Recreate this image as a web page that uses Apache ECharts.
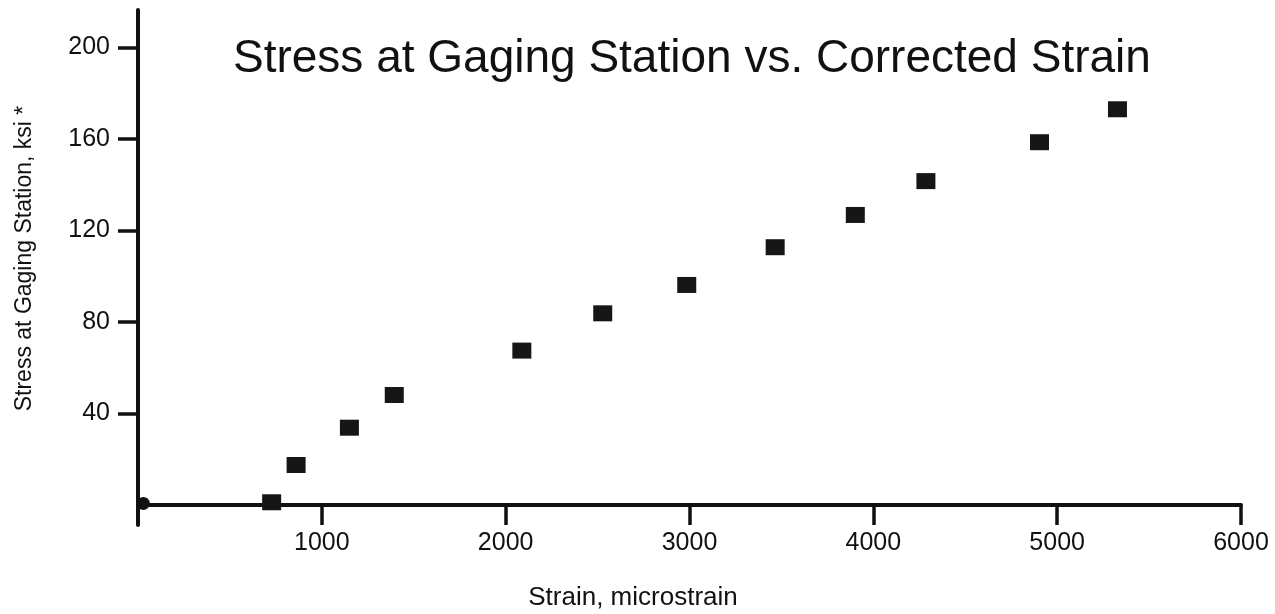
<!DOCTYPE html>
<html>
<head>
<meta charset="utf-8">
<title>Stress at Gaging Station vs. Corrected Strain</title>
<script src="https://cdn.jsdelivr.net/npm/echarts@6/dist/echarts.min.js"></script>
<style>
  html, body { margin: 0; padding: 0; background: #ffffff; }
  #chart { width: 1275px; height: 614px; }
</style>
</head>
<body>
<div id="chart"></div>
<script>
// Corrected strain (microstrain) and stress at the gaging station (ksi)
const strain = [727, 860, 1150, 1394, 2088, 2528, 2985, 3466, 3902, 4286, 4904, 5328];
const stress = [1.2, 17.5, 33.8, 48.1, 67.5, 83.8, 96.2, 112.7, 126.8, 141.6, 158.6, 173.0];

// Starting reading near the origin
const originStrain = [29];
const originStress = [0.7];

// Tick values shown on each axis
const xTicks = [1000, 2000, 3000, 4000, 5000, 6000];
const yTicks = [40, 80, 120, 160, 200];

const titleText = 'Stress at Gaging Station vs. Corrected Strain';
const xName = 'Strain, microstrain';
const yName = 'Stress at Gaging Station, ksi *';

const font = '"Liberation Sans", Arial, Helvetica, sans-serif';
const ink = '#111111';

const pairs = (xs, ys) => xs.map((x, i) => [x, ys[i]]);
const plain = v => String(v);

const chart = echarts.init(document.getElementById('chart'), null, { renderer: 'canvas' });

chart.setOption({
  backgroundColor: '#ffffff',
  animation: false,
  title: {
    text: titleText,
    left: 233,
    top: 36,
    padding: 0,
    textStyle: { fontFamily: font, fontSize: 46, fontWeight: 'normal', color: ink }
  },
  grid: { left: 138, right: 34, top: 10, bottom: 89, containLabel: false, outerBoundsMode: 'none' },
  xAxis: {
    type: 'value',
    min: 0,
    max: 6000,
    name: xName,
    nameLocation: 'middle',
    nameGap: 60,
    nameTextStyle: { fontFamily: font, fontSize: 26, color: ink, padding: [0, 113, 0, 0] },
    axisLine: { show: true, onZero: true, lineStyle: { color: ink, width: 4 } },
    axisTick: { show: true, inside: false, length: 20, customValues: xTicks, lineStyle: { color: ink, width: 3.5 } },
    axisLabel: { show: true, margin: 6, customValues: xTicks, formatter: plain, fontFamily: font, fontSize: 25, color: ink },
    splitLine: { show: false }
  },
  yAxis: {
    type: 'value',
    min: -8.74,
    max: 216.4,
    name: yName,
    nameLocation: 'middle',
    nameRotate: 90,
    nameGap: 102,
    nameTextStyle: { fontFamily: font, fontSize: 23, color: ink, padding: [0, 0, 0, 18] },
    axisLine: { show: true, onZero: false, lineStyle: { color: ink, width: 4 } },
    axisTick: { show: true, inside: false, length: 20, customValues: yTicks, lineStyle: { color: ink, width: 3.5 } },
    axisLabel: { show: true, margin: 28, customValues: yTicks, formatter: plain, fontFamily: font, fontSize: 25, color: ink },
    splitLine: { show: false }
  },
  series: [
    {
      name: 'Stress',
      type: 'scatter',
      symbol: 'rect',
      symbolSize: [19, 16],
      itemStyle: { color: '#161616', opacity: 1 },
      data: pairs(strain, stress),
      z: 3
    },
    {
      name: 'Origin',
      type: 'scatter',
      symbol: 'circle',
      symbolSize: 13,
      clip: false,
      itemStyle: { color: '#111111', opacity: 1 },
      data: pairs(originStrain, originStress),
      z: 3
    }
  ]
});
</script>
</body>
</html>
